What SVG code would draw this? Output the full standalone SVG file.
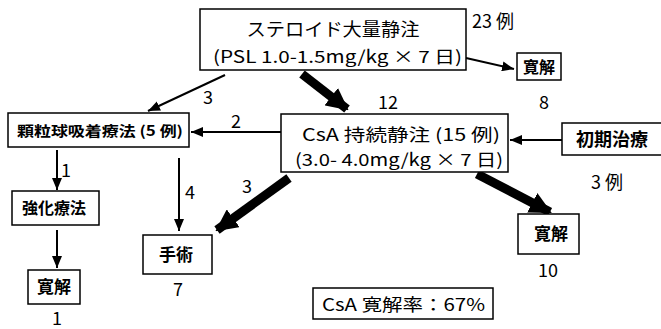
<svg xmlns="http://www.w3.org/2000/svg" width="661" height="329" viewBox="0 0 661 329">
<defs>
<marker id="thin" markerUnits="userSpaceOnUse" markerWidth="12" markerHeight="10" refX="12" refY="5" orient="auto"><path d="M0,0 L12,5 L0,10 Z" fill="#000"/></marker>
<marker id="thick" markerUnits="userSpaceOnUse" markerWidth="22" markerHeight="22" refX="20" refY="11" orient="auto"><path d="M0,0 L22,11 L0,22 Z" fill="#000"/></marker>
</defs>
<style>
rect{fill:#fff;stroke:#000;stroke-width:1.5}
text{font-family:"Noto Sans CJK JP","Noto Sans",sans-serif;fill:#000}
.b{font-weight:bold}
.thin{stroke:#000;stroke-width:2;fill:none;marker-end:url(#thin)}
.thick{stroke:#000;stroke-width:9;fill:none;marker-end:url(#thick)}
.n{font-size:18px}
</style>
<rect x="0" y="0" width="661" height="329" style="stroke:none;fill:#fff"/>
<g id="connectors">
<line class="thin" x1="466" y1="58" x2="514" y2="69"/>
<line class="thick" x1="302" y1="74" x2="347" y2="109"/>
<line class="thin" x1="225" y1="75" x2="148" y2="111"/>
<line class="thin" x1="282" y1="132" x2="191" y2="132"/>
<line class="thin" x1="562" y1="140" x2="510" y2="140"/>
<line class="thin" x1="57" y1="150" x2="57" y2="190"/>
<line class="thin" x1="57" y1="230" x2="57" y2="268"/>
<line class="thin" x1="179" y1="158" x2="179" y2="231"/>
<line class="thick" x1="289" y1="178" x2="217" y2="230"/>
<line class="thick" x1="477" y1="174" x2="550" y2="212"/>
<text class="n" x="472" y="28">23 例</text>
<text class="n" x="203" y="104">3</text>
<text class="n" x="378" y="109">12</text>
<text class="n" x="231" y="128">2</text>
<text class="n" x="61" y="177">1</text>
<text class="n" x="185" y="199">4</text>
<text class="n" x="242" y="193">3</text>
</g>
<g id="steroid">
<rect x="200" y="9" width="266" height="61"/>
<text x="333" y="36" font-size="18" text-anchor="middle" textLength="173" lengthAdjust="spacingAndGlyphs">ステロイド大量静注</text>
<text x="213" y="63" font-size="17" textLength="249" lengthAdjust="spacingAndGlyphs">(PSL 1.0-1.5mg/kg × 7 日)</text>
</g>
<g id="remission8">
<rect x="517" y="53" width="44" height="27"/>
<text class="b" x="539" y="73" font-size="16" text-anchor="middle">寛解</text>
<text class="n" x="544" y="109" text-anchor="middle">8</text>
</g>
<g id="granulocyte">
<rect x="8" y="113" width="181" height="34"/>
<text class="b" x="17" y="136" font-size="14" textLength="166" lengthAdjust="spacingAndGlyphs">顆粒球吸着療法 (5 例)</text>
</g>
<g id="csa">
<rect x="281" y="114" width="227" height="58"/>
<text x="401" y="141" font-size="17" text-anchor="middle" textLength="198" lengthAdjust="spacingAndGlyphs">CsA 持続静注 (15 例)</text>
<text x="295" y="166" font-size="17" textLength="208" lengthAdjust="spacingAndGlyphs">(3.0- 4.0mg/kg × 7 日)</text>
</g>
<g id="initial">
<rect x="562" y="123" width="102" height="32"/>
<text class="b" x="612" y="146" font-size="18" text-anchor="middle">初期治療</text>
<text class="n" x="607" y="189" text-anchor="middle">3 例</text>
</g>
<g id="intensify">
<rect x="12" y="191" width="87" height="34"/>
<text class="b" x="54" y="214" font-size="16" text-anchor="middle">強化療法</text>
</g>
<g id="remission1">
<rect x="28" y="270" width="52" height="34"/>
<text class="b" x="54" y="293" font-size="17" text-anchor="middle">寛解</text>
<text class="n" x="57" y="325" text-anchor="middle">1</text>
</g>
<g id="surgery">
<rect x="143" y="235" width="69" height="39"/>
<text class="b" x="176" y="261" font-size="17" text-anchor="middle">手術</text>
<text class="n" x="178" y="296" text-anchor="middle">7</text>
</g>
<g id="remission10">
<rect x="518" y="214" width="61" height="40"/>
<text class="b" x="551" y="240" font-size="17" text-anchor="middle">寛解</text>
<text class="n" x="548" y="277" text-anchor="middle">10</text>
</g>
<g id="rate">
<rect x="313" y="288" width="180" height="31"/>
<text x="322" y="311" font-size="17" textLength="163" lengthAdjust="spacingAndGlyphs">CsA 寛解率：67%</text>
</g>
</svg>
